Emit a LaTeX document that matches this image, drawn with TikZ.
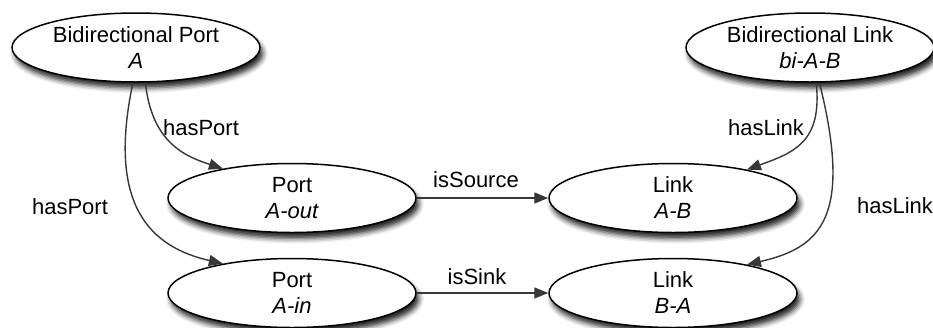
\documentclass[tikz,border=0pt]{standalone}
\usepackage{fontspec}
\setmainfont{Liberation Sans}
\usetikzlibrary{shapes.geometric,arrows.meta,shadows.blur}
\definecolor{edgegray}{RGB}{55,55,55}
\begin{document}
\begin{tikzpicture}[x=1pt,y=1pt,
  ent/.style={ellipse, draw=black, line width=1.5pt, fill=white,
    minimum width=248pt, minimum height=69pt, inner sep=0pt,
    blur shadow={shadow xshift=3pt, shadow yshift=-6pt, shadow blur radius=5pt, shadow opacity=85}},
  rel/.style={draw=edgegray, line width=1.4pt, -{Triangle[length=14pt,width=11pt]}},
  lbl/.style={anchor=base, font=\fontsize{22}{26}\selectfont, inner sep=0pt},
  ]
\useasboundingbox (0,0) rectangle (933,-327);
% entities
\node[ent] (bp)   at (136,-47.5) {};
\node[ent] (bl)   at (810,-47.5) {};
\node[ent] (aout) at (292,-198) {};
\node[ent] (ain)  at (292,-293) {};
\node[ent] (lab)  at (673,-198) {};
\node[ent] (lba)  at (673,-293) {};
% entity texts
\node[lbl] (bp1)   at ([yshift=5.5pt]bp.center) {Bidirectional Port};
\node[lbl] (bp2)   at ([yshift=-20.5pt]bp.center) {\itshape A};
\node[lbl] (bl1)   at ([yshift=5.5pt]bl.center) {Bidirectional Link};
\node[lbl] (bl2)   at ([yshift=-20.5pt]bl.center) {\itshape bi-A-B};
\node[lbl] (aout1) at ([yshift=5.5pt]aout.center) {Port};
\node[lbl] (aout2) at ([yshift=-20.5pt]aout.center) {\itshape A-out};
\node[lbl] (ain1)  at ([yshift=5.5pt]ain.center) {Port};
\node[lbl] (ain2)  at ([yshift=-20.5pt]ain.center) {\itshape A-in};
\node[lbl] (lab1)  at ([yshift=5.5pt]lab.center) {Link};
\node[lbl] (lab2)  at ([yshift=-20.5pt]lab.center) {\itshape A-B};
\node[lbl] (lba1)  at ([yshift=5.5pt]lba.center) {Link};
\node[lbl] (lba2)  at ([yshift=-20.5pt]lba.center) {\itshape B-A};
% connectors
\draw[rel] (bp.-75) to[out=-84,in=162,out distance=60pt,in distance=40pt] (aout.157);
\draw[rel] (bp.-95) to[out=-102,in=167,out distance=125pt,in distance=75pt] (ain.157);
\draw[rel] (bl.-80) to[out=-84,in=20,out distance=60pt,in distance=50pt] (lab.21);
\draw[rel] (bl.-75) to[out=-76,in=13,out distance=140pt,in distance=75pt] (lba.21);
\draw[rel] (aout.east) -- (lab.west);
\draw[rel] (ain.east) -- (lba.west);
% connector labels
\node[lbl] (hp1) at (201,-135) {hasPort};
\node[lbl] (hp2) at (70,-214) {hasPort};
\node[lbl] (hl1) at (766,-135) {hasLink};
\node[lbl] (hl2) at (895,-213) {hasLink};
\node[lbl] (iso) at (476,-187) {isSource};
\node[lbl] (isi) at (477,-284) {isSink};
\end{tikzpicture}
\end{document}
